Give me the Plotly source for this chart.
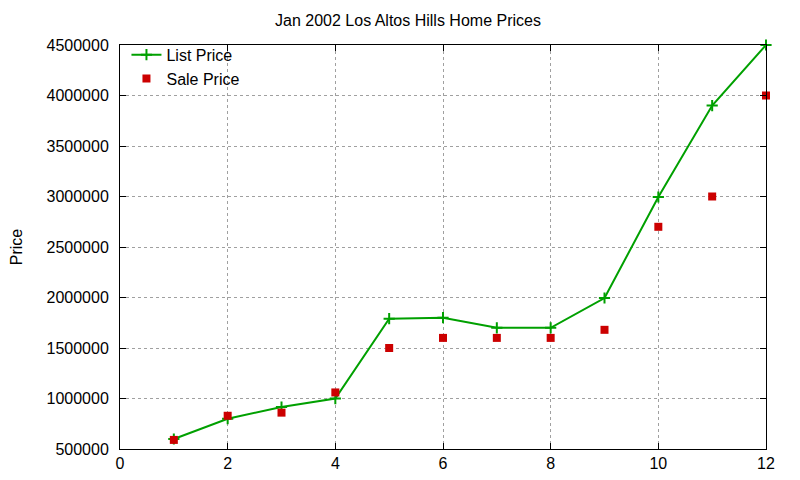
import plotly.graph_objects as go

# house index and prices (Jan 2002)
houses = [1, 2, 3, 4, 5, 6, 7, 8, 9, 10, 11, 12]
list_price = [599000, 800000, 915000, 999000, 1790000, 1800000,
              1700000, 1700000, 1995000, 2995000, 3900000, 4500000]
sale_price = [590000, 829000, 860000, 1060000, 1500000, 1600000,
              1600000, 1600000, 1680000, 2700000, 3000000, 4000000]

x_ticks = [0, 2, 4, 6, 8, 10, 12]
y_ticks = [500000, 1000000, 1500000, 2000000, 2500000,
           3000000, 3500000, 4000000, 4500000]

FONT = 'Liberation Sans, Arial'

fig = go.Figure()

# list price: line with crosses
fig.add_trace(go.Scatter(
    x=houses, y=list_price,
    mode='lines+markers',
    name='List Price',
    line=dict(color='#00a000', width=2),
    marker=dict(symbol='cross-thin', size=8, line=dict(color='#00a000', width=2)),
    cliponaxis=False
))

# sale price: red squares only
fig.add_trace(go.Scatter(
    x=houses, y=sale_price,
    mode='markers',
    name='Sale Price',
    marker=dict(symbol='square', size=8, color='#cc0000'),
    cliponaxis=False
))

axis_common = dict(
    showline=True, linecolor='black', linewidth=1, mirror='ticks',
    ticks='inside', ticklen=6, tickcolor='black',
    showgrid=True, gridcolor='#a0a0a0', griddash='dot', gridwidth=1,
    zeroline=False, automargin=False,
    tickfont=dict(family=FONT, size=16, color='black'),
)

fig.update_xaxes(range=[0, 12], tickvals=x_ticks, **axis_common)
fig.update_yaxes(range=[500000, 4500000], tickvals=y_ticks, tickformat='d',
                 ticklabelstandoff=7,
                 title=dict(text='Price', standoff=28,
                            font=dict(family=FONT, size=16, color='black')),
                 **axis_common)

# page adds an 8px body margin, so margins are offset accordingly
fig.update_layout(
    width=800, height=480,
    title=dict(text='Jan 2002 Los Altos Hills Home Prices', x=0.5, xanchor='center',
               y=0.975, yanchor='middle',
               font=dict(family=FONT, size=16, color='black')),
    plot_bgcolor='white', paper_bgcolor='white',
    margin=dict(l=112, r=42, t=37, b=39),
    legend=dict(x=0.01, y=1.018, xanchor='left', yanchor='top',
                bgcolor='rgba(0,0,0,0)', tracegroupgap=0,
                font=dict(family=FONT, size=16, color='black')),
    showlegend=True,
)

fig.write_html("out.html")
